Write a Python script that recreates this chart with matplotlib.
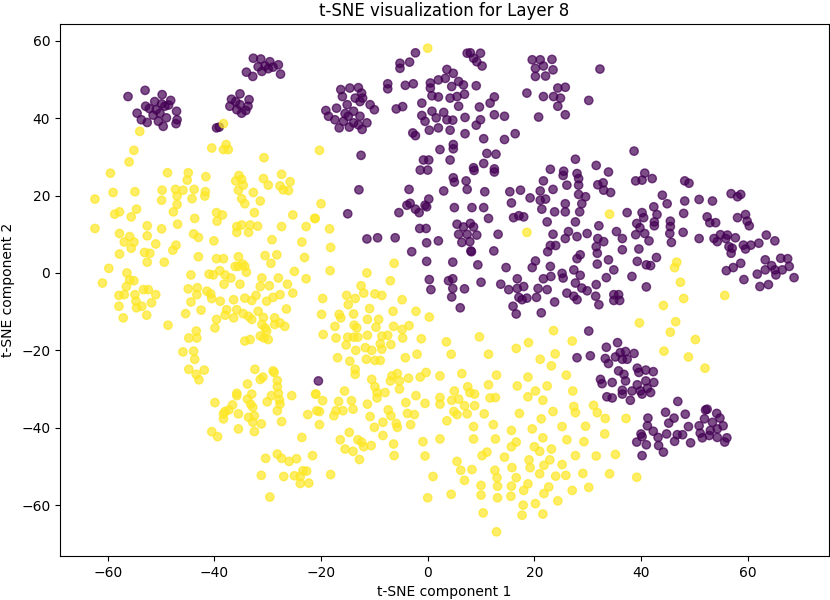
import numpy as np
import matplotlib
matplotlib.use("Agg")
import matplotlib.pyplot as plt

# label 0 (purple) groups
purple_nw = [(-56.2, 45.6), (-53.0, 47.2), (-49.8, 46.1), (-48.2, 44.6), (-51.2, 44.3), (-52.9, 43.1),
             (-54.5, 41.3), (-53.7, 39.6), (-52.6, 38.9), (-50.2, 41.3), (-49.0, 40.1), (-47.1, 41.8),
             (-47.0, 39.6), (-47.2, 38.6), (-49.6, 37.9), (-50.5, 39.2), (-51.5, 40.8), (-49.3, 43.1),
             (-52.2, 42.5), (-50.9, 42.2), (-49.9, 43.7), (-48.6, 43.4),
             (-39.6, 37.5), (-39.1, 37.7), (-36.8, 44.9), (-35.2, 46.3), (-33.5, 44.8), (-37.1, 43.1),
             (-35.2, 43.5), (-33.7, 43.1), (-34.9, 41.3), (-34.1, 42.0), (-35.8, 42.2), (-36.0, 44.3),
             (-32.7, 55.5), (-31.3, 55.3), (-29.6, 54.6), (-28.0, 53.8), (-27.6, 51.4), (-34.0, 51.9),
             (-32.8, 50.8), (-31.1, 52.1), (-29.9, 52.8), (-31.8, 53.3), (-30.5, 53.5), (-29.0, 53.2)]

purple_n = [(-16.3, 47.4), (-14.6, 47.8), (-13.0, 47.9), (-12.4, 46.5), (-12.2, 45.2), (-16.0, 45.6),
            (-13.6, 45.2), (-12.7, 44.3), (-15.1, 43.5), (-19.1, 42.0), (-17.1, 42.6), (-18.6, 40.5),
            (-17.4, 39.6), (-15.5, 41.2), (-13.9, 41.8), (-12.7, 40.5), (-11.4, 38.8), (-10.8, 43.5),
            (-10.0, 42.2), (-16.6, 37.5), (-14.7, 37.7), (-12.3, 37.1), (-15.8, 39.2), (-13.9, 38.8),
            (-14.9, 40.5), (-13.0, 38.3), (-7.5, 48.9), (-7.5, 47.6), (-5.9, 42.4), (-4.7, 43.0),
            (-5.2, 54.2), (-5.2, 52.9), (-3.4, 54.5), (-2.3, 56.9), (-4.2, 48.5), (-2.7, 48.9), (-1.1, 43.9),
            (0.5, 49.1), (0.5, 47.8), (2.0, 49.9), (3.3, 50.3), (3.6, 52.6), (4.8, 51.6), (4.5, 48.2),
            (5.8, 49.5), (6.7, 48.6), (9.1, 48.4), (0.8, 45.8), (2.0, 45.5), (4.2, 45.2), (5.5, 45.6),
            (6.9, 46.2), (5.8, 43.1), (9.7, 42.9), (11.7, 43.9), (12.5, 45.5), (7.4, 56.8), (8.0, 56.9),
            (9.9, 56.8), (8.6, 55.5), (10.2, 53.5), (9.2, 54.6), (-1.1, 40.7), (-0.5, 39.2), (0.8, 41.8),
            (1.6, 40.1), (3.0, 41.5), (3.6, 39.6), (4.7, 39.5), (7.0, 40.2), (9.9, 39.6), (9.1, 38.2),
            (0.3, 36.9), (2.0, 37.5), (4.2, 36.9), (7.0, 36.0), (10.5, 34.7), (12.5, 40.9), (14.4, 40.5),
            (16.4, 36.0), (14.4, 34.5), (-2.8, 36.2), (-2.3, 35.5), (4.8, 33.2), (4.8, 32.1), (2.3, 31.9),
            (4.2, 29.2), (-0.8, 29.2), (0.2, 29.2), (-1.4, 26.6), (0.0, 26.6), (8.6, 27.2), (8.7, 26.5),
            (10.5, 28.3), (11.1, 30.9), (12.8, 30.7), (12.5, 26.9), (12.5, 26.1), (4.8, 24.6), (5.0, 23.5),
            (7.2, 23.8), (7.4, 21.6), (10.7, 21.0), (3.0, 21.2), (-3.5, 21.6), (-12.9, 21.5), (-12.5, 30.4),
            (15.4, 21.0), (17.4, 21.4), (18.6, 46.5), (20.8, 40.3), (19.6, 55.1), (21.1, 55.1), (23.3, 55.2),
            (20.2, 52.9), (21.7, 53.5), (22.1, 50.9), (20.2, 50.8), (23.5, 52.5), (24.4, 47.8), (25.8, 48.0),
            (21.7, 45.6), (23.6, 45.6), (24.9, 45.2), (24.4, 43.1), (25.8, 40.9), (23.0, 26.8), (21.7, 23.8),
            (21.1, 21.2), (23.5, 21.6), (32.3, 52.7), (30.2, 44.6), (38.7, 31.5)]

purple_mid = [(-15.0, 15.3), (-11.4, 8.8), (-9.4, 9.1), (-6.1, 9.1), (-5.4, 15.6), (-3.9, 17.5), (-3.3, 18.0),
              (-2.3, 16.5), (-1.6, 15.6), (-0.5, 17.5), (0.2, 19.1), (-0.2, 17.1), (-1.5, 11.5), (-0.3, 11.5),
              (2.0, 8.3), (-0.2, 7.8), (-3.0, 5.5), (-0.2, 3.0), (4.7, 2.8), (0.3, -1.7), (0.6, -4.3),
              (3.9, -2.0), (4.7, -1.5), (4.7, -4.0), (4.5, -6.2), (6.9, -4.1), (6.1, -9.0), (10.0, -2.4),
              (9.4, 2.1), (8.2, 5.5), (5.5, 12.6), (6.7, 11.9), (8.0, 12.8), (8.6, 11.9), (5.8, 10.0),
              (7.4, 10.0), (9.2, 9.8), (6.4, 7.9), (7.9, 8.1), (8.1, 5.7), (5.0, 16.9), (8.3, 16.9),
              (10.5, 16.9), (11.4, 14.1), (13.2, 10.0), (12.4, 5.7), (14.7, 1.4), (13.7, -2.9), (15.2, -4.3),
              (16.0, -8.6), (16.6, -10.6), (17.7, -6.9), (17.1, -6.3), (18.6, -6.5), (18.0, -3.5), (16.8, -4.0),
              (16.8, -1.5), (15.7, 18.1), (19.2, 19.4), (21.1, 18.8), (22.1, 19.1), (21.4, 16.5), (23.8, 15.8),
              (16.1, 14.3), (17.1, 14.8), (18.0, 14.5), (22.4, 13.2), (23.5, 10.0), (23.0, 7.1), (24.0, 7.1),
              (22.5, 5.5), (20.2, 3.1), (19.6, 1.4), (23.0, 1.7), (23.1, -0.9), (21.7, -1.5), (20.7, -4.0),
              (22.4, -4.3), (20.4, -6.3), (23.8, -7.5), (21.3, -10.3)]

purple_e = [(25.5, 26.3), (25.4, 25.2), (27.7, 29.4), (31.6, 27.8), (33.9, 26.1), (28.0, 25.7), (28.3, 24.4),
            (26.1, 22.7), (28.3, 22.7), (31.9, 22.8), (32.9, 23.3), (33.0, 21.4), (34.3, 20.8), (28.3, 20.3),
            (29.6, 19.7), (28.9, 17.9), (25.8, 17.9), (25.8, 15.8), (28.5, 15.8), (27.7, 13.2), (26.4, 10.7),
            (25.8, 8.9), (28.0, 9.4), (29.9, 10.2), (32.1, 12.2), (31.9, 8.9), (33.0, 8.1), (31.6, 6.8),
            (31.8, 5.1), (28.6, 4.7), (28.0, 3.7), (33.9, 3.4), (34.9, 0.8), (31.8, 2.3), (27.4, 0.8),
            (25.2, -0.1), (28.6, -0.6), (25.4, -1.3), (27.7, -2.6), (28.9, -3.9), (29.9, -4.6), (31.6, -3.0),
            (33.5, -1.2), (38.3, -0.9), (26.1, -5.2), (27.4, -6.0), (28.0, -6.9), (31.5, -6.0), (32.1, -8.2),
            (34.9, -5.6), (35.8, -5.6), (34.9, -7.1), (36.0, -7.1), (41.0, -3.6), (37.4, 15.6), (40.2, 15.6),
            (40.5, 14.3), (42.4, 17.1), (43.0, 15.1), (42.5, 13.2), (42.5, 12.2), (39.2, 12.8), (39.8, 11.7),
            (40.7, 10.2), (39.0, 9.9), (41.5, 8.3), (39.6, 6.2), (36.5, 8.9), (35.4, 10.7), (36.5, 6.0),
            (39.3, 3.0), (41.0, 2.1), (41.8, 1.9), (42.9, 4.0), (45.5, 13.4), (45.5, 12.0), (45.4, 10.2),
            (45.7, 7.9), (48.0, 15.4), (47.9, 10.5), (44.9, 17.9), (50.9, 8.9), (52.4, 14.5), (52.9, 13.0),
            (54.0, 13.0), (53.7, 8.9), (54.3, 8.1), (54.9, 9.9), (55.9, 8.9), (56.2, 9.8), (56.5, 6.8),
            (57.1, 6.4), (56.9, 5.1), (57.7, 9.1), (58.1, 14.3), (59.6, 15.1), (59.9, 13.4), (60.3, 12.2),
            (59.2, 7.2), (59.6, 6.2), (60.6, 7.2), (62.1, 7.7), (63.5, 9.8), (65.1, 8.3), (58.7, 2.5),
            (57.3, 1.4), (56.0, 0.6), (59.3, -1.7), (61.8, -0.3), (62.3, -3.5), (63.9, -3.0), (63.3, 0.8),
            (63.3, 3.4), (64.5, 1.9), (65.1, 0.8), (65.3, -0.5), (66.2, 3.8), (67.5, 3.7), (67.8, 1.7),
            (66.5, 0.8), (68.7, -1.2), (56.9, 20.5), (58.1, 19.7), (58.7, 20.3), (50.9, 19.0), (53.4, 18.6),
            (48.2, 23.8), (49.0, 23.2), (48.2, 18.6), (44.0, 20.1), (39.0, 23.8), (40.2, 24.0), (40.7, 25.8),
            (42.1, 24.4)]

purple_se = [(30.2, -15.0), (28.0, -21.9), (30.5, -21.4), (33.5, -19.2), (35.6, -18.0), (33.3, -22.1),
             (33.9, -23.4), (35.2, -21.7), (36.1, -20.6), (37.1, -20.3), (38.7, -20.8), (36.5, -22.3),
             (37.4, -22.3), (35.8, -25.3), (36.8, -26.2), (37.1, -27.9), (39.3, -24.6), (40.9, -25.1),
             (42.3, -25.5), (39.6, -25.7), (39.3, -28.9), (40.9, -27.9), (42.4, -28.3), (39.9, -30.5),
             (41.2, -29.8), (41.8, -30.9), (40.2, -31.3), (38.3, -30.5), (38.0, -32.9), (36.5, -30.3),
             (36.5, -31.3), (34.6, -28.3), (32.4, -27.5), (32.7, -28.6), (33.6, -32.0), (34.6, -32.3),
             (46.9, -33.2), (44.6, -36.0), (46.2, -37.5), (48.3, -36.5), (45.2, -38.8), (41.3, -37.5),
             (41.2, -39.5), (42.3, -40.9), (43.2, -42.5), (44.8, -41.6), (46.8, -41.8), (47.8, -41.8),
             (48.9, -39.7), (40.0, -41.6), (40.2, -42.3), (39.2, -43.7), (41.0, -44.4), (40.2, -47.2),
             (43.3, -44.6), (44.2, -46.3), (46.3, -43.5), (49.3, -43.9), (50.9, -39.5), (51.1, -41.4),
             (51.5, -42.6), (52.1, -35.4), (52.4, -35.2), (51.9, -37.7), (53.4, -38.6), (54.2, -36.3),
             (54.8, -37.5), (55.4, -39.5), (54.3, -40.3), (53.0, -40.7), (52.8, -42.0), (54.3, -42.5),
             (56.1, -42.6), (55.7, -43.7), (-20.5, -27.9)]

# label 1 (yellow) groups
yellow_nw = [(0.0, 58.1), (-54.0, 36.6), (-55.1, 31.7), (-56.0, 28.7), (-59.5, 25.8), (-59.0, 20.8),
             (-54.9, 21.0), (-48.8, 25.9), (-44.9, 25.9), (-45.1, 24.0), (-41.6, 24.9), (-49.8, 21.4),
             (-47.3, 21.6), (-45.9, 21.4), (-43.8, 21.6), (-41.7, 21.0), (-47.0, 19.9), (-41.8, 19.9),
             (-40.5, 32.3), (-38.3, 31.9), (-37.4, 31.9), (-37.8, 33.2), (-38.3, 38.6), (-30.7, 29.8),
             (-35.4, 25.2), (-34.9, 24.2), (-36.0, 23.8), (-34.6, 22.7), (-35.5, 21.4), (-32.7, 20.8),
             (-30.8, 24.4), (-29.9, 22.7), (-27.4, 25.5), (-25.8, 23.6), (-27.7, 22.5), (-27.1, 21.5),
             (-26.1, 21.3), (-20.3, 31.7)]

yellow_w = [(-62.4, 19.1), (-58.7, 15.2), (-57.8, 15.8), (-54.6, 16.5), (-55.6, 14.5), (-49.9, 18.8),
            (-47.7, 15.8), (-47.0, 17.7), (-49.9, 11.4), (-46.9, 12.6), (-43.7, 14.1), (-44.2, 19.2),
            (-62.4, 11.5), (-57.8, 10.2), (-55.9, 9.4), (-56.9, 8.0), (-55.1, 8.0), (-55.6, 6.4),
            (-52.6, 12.2), (-52.6, 9.6), (-51.0, 7.5), (-53.1, 5.3), (-52.1, 5.1), (-52.6, 2.8),
            (-57.8, 4.9), (-59.8, 1.2), (-61.0, -2.6), (-49.4, 2.8), (-47.8, 5.9), (-47.2, 7.2),
            (-43.9, 10.1), (-43.0, 9.2), (-40.1, 8.3), (-43.0, 4.2), (-44.4, -0.5), (-44.9, -4.1),
            (-43.2, -3.8), (-43.3, -5.6), (-44.4, -7.5), (-45.4, -10.5), (-42.5, -9.6), (-48.7, -13.5),
            (-56.4, 0.0), (-55.9, -1.8), (-55.1, -2.0), (-56.5, -3.5), (-57.9, -5.8), (-56.9, -5.6),
            (-57.9, -8.6), (-57.1, -11.6), (-54.9, -5.6), (-54.7, -7.3), (-54.6, -9.0), (-53.6, -8.6),
            (-53.3, -4.3), (-52.4, -4.3), (-51.8, -7.7), (-51.0, -5.6), (-52.7, -10.9)]

yellow_w2 = [(-39.6, 15.6), (-38.5, 15.0), (-39.5, 13.4), (-39.6, 3.7), (-38.3, 3.7), (-41.0, -0.3),
             (-40.2, -0.5), (-39.0, 0.6), (-38.0, -0.5), (-36.9, -1.3), (-35.5, 4.2), (-34.7, 2.3),
             (-36.1, 1.7), (-35.5, 1.7), (-34.3, 1.7), (-38.2, -2.9), (-35.2, -2.9), (-34.0, 0.2),
             (-35.8, 12.0), (-34.9, 12.4), (-33.3, 12.4), (-33.6, 10.5), (-35.8, 10.5), (-34.9, 19.2),
             (-34.3, 17.9), (-31.4, 18.6), (-32.5, 15.6), (-31.9, 12.1), (-29.2, 8.6), (-28.3, 4.7),
             (-29.4, 2.5), (-30.5, 4.5), (-27.4, 12.0), (-25.3, 15.0), (-23.6, 8.0), (-23.1, 4.0),
             (-25.0, 0.4), (-22.8, -1.5), (-22.8, 12.0), (-21.2, 14.1), (-31.1, -1.3), (-29.7, -3.3),
             (-31.4, -3.5), (-28.0, -1.3), (-26.3, -2.9), (-25.3, -5.2), (-27.7, -5.6), (-29.0, -6.3),
             (-30.2, -7.3), (-32.2, -5.8), (-33.0, -7.1), (-34.3, -6.5), (-36.4, -6.9), (-38.9, -7.3),
             (-40.7, -5.4), (-41.4, -4.7), (-40.5, -6.6), (-39.6, -12.0), (-39.9, -14.2), (-38.0, -10.9),
             (-37.7, -9.5), (-35.8, -9.5), (-36.4, -11.6), (-34.6, -10.5), (-33.6, -11.2), (-33.0, -12.0),
             (-31.8, -9.9), (-30.8, -11.5), (-31.1, -13.3), (-30.5, -14.2), (-30.2, -15.0), (-30.7, -16.8),
             (-31.4, -16.3), (-29.9, -17.2), (-28.7, -11.6), (-28.7, -13.3), (-27.7, -12.9), (-26.8, -13.8),
             (-34.3, -17.6), (-33.3, -17.2), (-26.5, -9.3), (-44.8, -16.8), (-43.4, -15.0), (-43.3, -16.8),
             (-45.9, -20.4), (-43.9, -20.2), (-43.7, -22.3), (-44.8, -24.9), (-41.9, -25.1), (-32.4, -24.9),
             (-29.0, -25.3)]

yellow_sw = [(-43.4, -26.2), (-42.9, -27.6), (-39.9, -33.5), (-40.5, -41.0), (-39.4, -42.3), (-38.3, -36.4),
             (-38.0, -35.8), (-38.3, -37.7), (-37.3, -35.4), (-36.6, -34.1), (-35.8, -31.1), (-35.8, -31.7),
             (-35.5, -36.4), (-35.5, -40.3), (-33.8, -28.7), (-33.8, -32.6), (-33.0, -31.3), (-33.2, -33.9),
             (-32.8, -34.7), (-33.6, -37.3), (-32.8, -38.6), (-32.5, -36.9), (-32.5, -41.0), (-31.4, -27.5),
             (-30.9, -26.9), (-31.2, -39.0), (-30.1, -33.3), (-29.3, -31.7), (-28.8, -25.7), (-28.2, -27.8),
             (-28.2, -29.4), (-28.0, -31.1), (-27.8, -32.8), (-27.7, -33.9), (-28.2, -35.6), (-27.4, -38.4),
             (-25.5, -31.7), (-22.5, -36.6), (-23.6, -42.5), (-21.0, -31.3), (-20.8, -35.6), (-28.2, -46.8),
             (-27.4, -47.9), (-30.4, -47.9), (-26.0, -48.7), (-24.6, -48.0), (-31.2, -52.3), (-27.0, -52.6),
             (-25.0, -52.4), (-23.9, -52.6), (-23.9, -54.4), (-22.3, -54.3), (-23.4, -51.1), (-22.7, -51.2),
             (-29.6, -57.9)]

yellow_c = [(-20.0, 17.9), (-21.1, 14.1), (-18.4, 11.4), (-18.2, 6.6), (-18.3, 0.6), (-6.3, 2.5), (-7.0, -2.0),
            (-11.4, 0.0), (-12.5, -3.3), (-12.0, -5.2), (-15.2, -5.8), (-13.6, -6.6), (-9.9, -5.4), (-8.6, -5.8),
            (-4.8, -6.9), (-19.7, -6.6), (-14.9, -8.2), (-10.9, -9.2), (-6.5, -9.9), (-2.2, -9.9), (0.3, -11.4),
            (-19.9, -10.7), (-16.6, -10.7), (-16.3, -11.6), (-13.9, -10.6), (-11.3, -12.0), (-9.2, -12.0),
            (-17.4, -13.8), (-13.3, -14.2), (-13.8, -13.5), (-9.7, -14.0), (-6.4, -13.8), (-4.8, -14.6),
            (-3.5, -13.6), (-19.6, -15.9), (-17.2, -16.8), (-15.0, -16.6), (-13.9, -16.6), (-13.1, -16.6),
            (-11.3, -16.1), (-8.6, -16.3), (-7.5, -16.1), (-4.7, -16.8), (-1.2, -17.0), (3.5, -17.8),
            (9.7, -16.5), (-15.3, -18.6), (-13.5, -20.0), (-11.7, -19.3), (-10.5, -20.0), (-8.9, -18.3),
            (-8.6, -19.7), (-6.9, -18.5), (-16.9, -21.9), (-14.6, -22.8), (-11.5, -22.3), (-9.9, -22.6),
            (-8.9, -22.6), (-4.2, -21.9), (-2.0, -21.0), (4.4, -21.0), (11.4, -21.0), (18.9, -18.0),
            (16.6, -19.5), (23.6, -14.9), (23.9, -20.9), (21.1, -22.3), (18.6, 10.5), (34.1, 15.2),
            (46.7, 2.8), (46.3, 1.4), (47.4, -2.4), (48.0, -6.6), (44.2, -8.4), (55.7, -5.8)]

yellow_s = [(-13.6, -24.9), (-13.6, -26.2), (-10.5, -27.5), (-9.9, -29.4), (-9.5, -30.9), (-9.5, -32.3),
            (-8.0, -30.9), (-7.0, -27.9), (-6.7, -26.6), (-5.7, -26.0), (-5.3, -27.9), (-5.3, -30.0),
            (-3.6, -27.2), (-1.4, -26.9), (-0.3, -25.7), (2.3, -26.6), (6.4, -26.0), (12.9, -26.4),
            (11.4, -28.9), (16.8, -29.2), (18.8, -26.9), (22.4, -29.2), (23.2, -24.0), (26.0, -26.4),
            (-21.0, -31.3), (-19.7, -33.0), (-20.3, -35.8), (-20.3, -39.2), (-17.6, -36.9), (-16.7, -33.2),
            (-15.9, -35.6), (-15.6, -30.5), (-14.3, -33.0), (-14.0, -35.2), (-11.3, -33.9), (-10.8, -37.1),
            (-10.0, -39.9), (-8.4, -38.6), (-8.4, -42.0), (-7.4, -35.4), (-6.9, -36.9), (-5.9, -38.9),
            (-5.7, -39.9), (-4.1, -33.5), (-3.8, -36.3), (-3.2, -39.2), (-2.5, -36.6), (-2.2, -31.7),
            (-0.5, -33.7), (2.3, -32.2), (2.3, -33.9), (3.6, -38.2), (4.5, -32.9), (5.0, -30.5),
            (5.8, -32.6), (4.9, -35.8), (5.5, -36.6), (6.9, -34.3), (7.4, -36.4), (7.5, -29.4),
            (7.9, -30.9), (8.8, -31.3), (8.8, -34.3), (10.6, -36.4), (11.7, -32.3), (12.7, -32.2),
            (12.3, -39.2), (8.6, -39.7), (8.6, -42.9), (12.7, -42.9), (15.7, -40.7), (16.6, -43.7),
            (15.7, -44.9), (19.6, -40.3), (21.3, -37.7), (21.6, -32.9), (23.5, -35.8), (25.2, -39.7),
            (26.1, -43.1), (18.8, -32.0), (17.2, -36.3), (20.2, -30.5), (-16.4, -43.1), (-15.5, -45.5),
            (-14.0, -46.1), (-12.8, -48.2), (-12.4, -43.7), (-12.0, -44.9), (-10.6, -44.6), (-6.4, -44.2),
            (-6.3, -47.2), (-0.9, -43.6), (-0.5, -47.3), (2.3, -42.9), (-21.6, -47.2), (-18.2, -52.1),
            (5.5, -48.7), (6.2, -51.0), (6.9, -53.6), (8.3, -50.8), (10.0, -54.9), (10.0, -57.4),
            (10.2, -47.2), (11.1, -46.3), (14.4, -47.6), (12.6, -51.0), (13.0, -52.9), (13.1, -55.1),
            (13.1, -58.1), (15.8, -50.3), (16.6, -52.9), (15.7, -55.1), (15.6, -57.7), (19.0, -48.3),
            (19.2, -50.3), (20.0, -44.9), (21.0, -46.1), (21.6, -42.6), (22.9, -48.3), (23.2, -45.5),
            (21.0, -51.9), (21.8, -49.7), (18.8, -54.5), (18.0, -56.2), (17.9, -60.0), (17.7, -62.6),
            (20.2, -59.6), (21.6, -62.3), (21.8, -57.0), (22.7, -55.3), (24.0, -52.5), (24.4, -58.9),
            (25.2, -49.5), (25.9, -52.3), (10.4, -62.0), (12.9, -66.9), (4.4, -57.2), (0.0, -58.1),
            (1.0, -52.6), (-14.7, -41.2), (-13.1, -43.1), (-17.2, -35.6)]

yellow_se = [(39.7, -12.9), (46.5, -12.6), (45.5, -15.3), (50.2, -17.2), (27.1, -17.6), (44.3, -20.2),
             (48.9, -21.7), (52.0, -24.6), (27.2, -30.5), (27.4, -34.5), (27.7, -36.1), (31.1, -34.2),
             (31.8, -36.1), (33.3, -37.6), (37.2, -37.6), (29.6, -39.6), (29.3, -43.6), (33.2, -41.6),
             (27.7, -47.2), (31.6, -47.3), (35.2, -46.9), (29.1, -51.8), (34.1, -51.9), (39.2, -52.8),
             (30.2, -55.4), (27.1, -56.2)]

purple = purple_nw + purple_n + purple_mid + purple_e + purple_se
yellow = yellow_nw + yellow_w + yellow_w2 + yellow_sw + yellow_c + yellow_s + yellow_se

pts = np.array(purple + yellow)
labels = np.array([0] * len(purple) + [1] * len(yellow))

fig = plt.figure(figsize=(8.3, 6.0), dpi=100)
ax = fig.add_axes([0.0723, 0.0733, 0.9265, 0.8867])
ax.scatter(pts[:, 0], pts[:, 1], c=labels, cmap="viridis", alpha=0.7)
ax.set_title("t-SNE visualization for Layer 8")
ax.set_xlabel("t-SNE component 1")
ax.set_ylabel("t-SNE component 2")
fig.savefig("out.png")
